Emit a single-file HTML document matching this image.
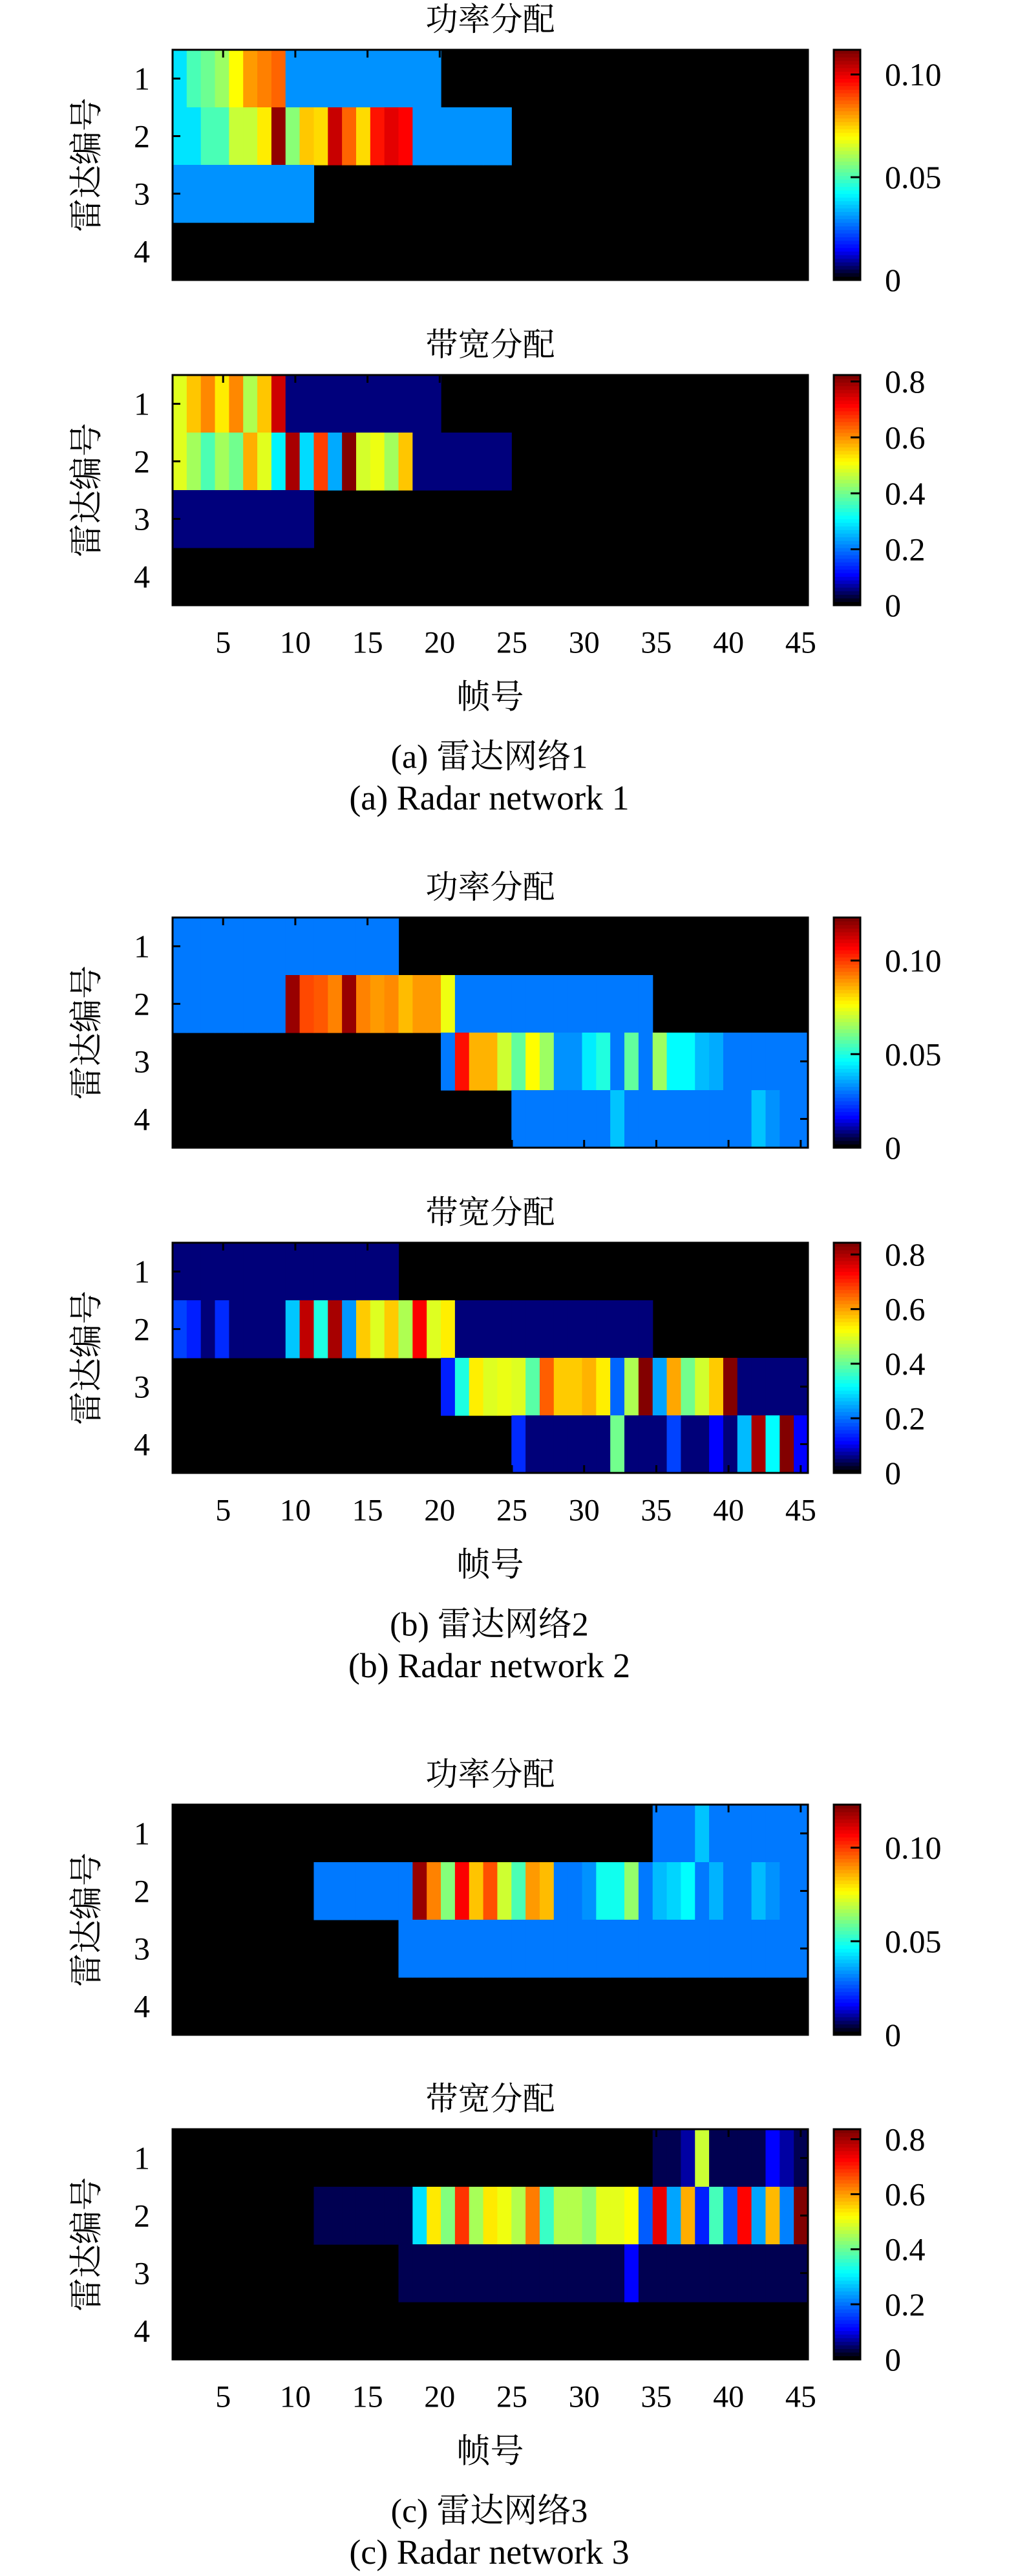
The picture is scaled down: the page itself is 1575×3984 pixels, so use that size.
<!DOCTYPE html>
<html><head><meta charset="utf-8"><style>
html,body{margin:0;padding:0;background:#fff;}
svg{display:block;}
text{font-family:"Liberation Serif","Noto Serif CJK SC","Noto Sans CJK SC",serif;fill:#000;}
</style></head>
<body>
<svg id="fig" width="1575" height="3984" viewBox="0 0 1575 3984" xmlns="http://www.w3.org/2000/svg"></svg>
<script>
// ---- data (45 frames x 4 radars per map) ----
const power1_r1=[0.039,0.050,0.054,0.059,0.070,0.081,0.084,0.087,0.030,0.030,0.030,0.030,0.030,0.030,0.030,0.030,0.030,0.030,0.030,0,0,0,0,0,0,0,0,0,0,0,0,0,0,0,0,0,0,0,0,0,0,0,0,0,0];
const power1_r2=[0.039,0.039,0.050,0.050,0.064,0.064,0.072,0.110,0.057,0.076,0.074,0.104,0.087,0.074,0.096,0.101,0.098,0.030,0.030,0.030,0.030,0.030,0.030,0.030,0,0,0,0,0,0,0,0,0,0,0,0,0,0,0,0,0,0,0,0,0];
const power1_r3=[0.030,0.030,0.030,0.030,0.030,0.030,0.030,0.030,0.030,0.030,0,0,0,0,0,0,0,0,0,0,0,0,0,0,0,0,0,0,0,0,0,0,0,0,0,0,0,0,0,0,0,0,0,0,0];
const power1_r4=[0,0,0,0,0,0,0,0,0,0,0,0,0,0,0,0,0,0,0,0,0,0,0,0,0,0,0,0,0,0,0,0,0,0,0,0,0,0,0,0,0,0,0,0,0];

const bw1_r1=[0.49,0.56,0.61,0.53,0.61,0.45,0.56,0.76,0.05,0.05,0.05,0.05,0.05,0.05,0.05,0.05,0.05,0.05,0.05,0,0,0,0,0,0,0,0,0,0,0,0,0,0,0,0,0,0,0,0,0,0,0,0,0,0];
const bw1_r2=[0.49,0.44,0.37,0.44,0.40,0.58,0.49,0.30,0.79,0.28,0.67,0.24,0.82,0.48,0.50,0.44,0.56,0.05,0.05,0.05,0.05,0.05,0.05,0.05,0,0,0,0,0,0,0,0,0,0,0,0,0,0,0,0,0,0,0,0,0];
const bw1_r3=[0.05,0.05,0.05,0.05,0.05,0.05,0.05,0.05,0.05,0.05,0,0,0,0,0,0,0,0,0,0,0,0,0,0,0,0,0,0,0,0,0,0,0,0,0,0,0,0,0,0,0,0,0,0,0];
const bw1_r4=[0,0,0,0,0,0,0,0,0,0,0,0,0,0,0,0,0,0,0,0,0,0,0,0,0,0,0,0,0,0,0,0,0,0,0,0,0,0,0,0,0,0,0,0,0];

const power2_r1=[0.030,0.030,0.030,0.030,0.030,0.030,0.030,0.030,0.030,0.030,0.030,0.030,0.030,0.030,0.030,0.030,0,0,0,0,0,0,0,0,0,0,0,0,0,0,0,0,0,0,0,0,0,0,0,0,0,0,0,0,0];
const power2_r2=[0.030,0.030,0.030,0.030,0.030,0.030,0.030,0.030,0.120,0.099,0.097,0.092,0.120,0.092,0.089,0.091,0.085,0.089,0.089,0.075,0.030,0.030,0.030,0.030,0.030,0.030,0.030,0.030,0.030,0.030,0.030,0.030,0.030,0.030,0,0,0,0,0,0,0,0,0,0,0];
const power2_r3=[0,0,0,0,0,0,0,0,0,0,0,0,0,0,0,0,0,0,0,0.030,0.106,0.086,0.086,0.071,0.058,0.077,0.065,0.033,0.033,0.044,0.050,0.030,0.058,0.030,0.065,0.046,0.046,0.038,0.036,0.030,0.030,0.030,0.030,0.030,0.030];
const power2_r4=[0,0,0,0,0,0,0,0,0,0,0,0,0,0,0,0,0,0,0,0,0,0,0,0,0.030,0.030,0.030,0.030,0.030,0.030,0.030,0.039,0.030,0.030,0.030,0.030,0.030,0.030,0.030,0.030,0.030,0.039,0.033,0.030,0.030];

const bw2_r1=[0.05,0.05,0.05,0.05,0.05,0.05,0.05,0.05,0.05,0.05,0.05,0.05,0.05,0.05,0.05,0.05,0,0,0,0,0,0,0,0,0,0,0,0,0,0,0,0,0,0,0,0,0,0,0,0,0,0,0,0,0];
const bw2_r2=[0.16,0.13,0.05,0.14,0.05,0.05,0.05,0.05,0.27,0.79,0.34,0.81,0.23,0.57,0.50,0.57,0.46,0.74,0.50,0.54,0.05,0.05,0.05,0.05,0.05,0.05,0.05,0.05,0.05,0.05,0.05,0.05,0.05,0.05,0,0,0,0,0,0,0,0,0,0,0];
const bw2_r3=[0,0,0,0,0,0,0,0,0,0,0,0,0,0,0,0,0,0,0,0.13,0.34,0.54,0.50,0.51,0.50,0.39,0.66,0.57,0.57,0.59,0.54,0.19,0.46,0.84,0.24,0.60,0.41,0.49,0.57,0.84,0.05,0.05,0.05,0.05,0.05];
const bw2_r4=[0,0,0,0,0,0,0,0,0,0,0,0,0,0,0,0,0,0,0,0,0,0,0,0,0.14,0.05,0.05,0.05,0.05,0.05,0.05,0.41,0.05,0.05,0.05,0.16,0.05,0.05,0.105,0.05,0.26,0.81,0.315,0.84,0.105];

const power3_r1=[0,0,0,0,0,0,0,0,0,0,0,0,0,0,0,0,0,0,0,0,0,0,0,0,0,0,0,0,0,0,0,0,0,0,0.030,0.030,0.030,0.039,0.030,0.030,0.030,0.030,0.030,0.030,0.030];
const power3_r2=[0,0,0,0,0,0,0,0,0,0,0.030,0.030,0.030,0.030,0.030,0.030,0.030,0.120,0.092,0.062,0.108,0.084,0.098,0.071,0.055,0.089,0.085,0.030,0.030,0.033,0.048,0.048,0.064,0.030,0.038,0.041,0.046,0.030,0.037,0.030,0.030,0.038,0.033,0.030,0.030];
const power3_r3=[0,0,0,0,0,0,0,0,0,0,0,0,0,0,0,0,0.030,0.030,0.030,0.030,0.030,0.030,0.030,0.030,0.030,0.030,0.030,0.030,0.030,0.030,0.030,0.030,0.030,0.030,0.030,0.030,0.030,0.030,0.030,0.030,0.030,0.030,0.030,0.030,0.030];
const power3_r4=[0,0,0,0,0,0,0,0,0,0,0,0,0,0,0,0,0,0,0,0,0,0,0,0,0,0,0,0,0,0,0,0,0,0,0,0,0,0,0,0,0,0,0,0,0];

const bw3_r1=[0,0,0,0,0,0,0,0,0,0,0,0,0,0,0,0,0,0,0,0,0,0,0,0,0,0,0,0,0,0,0,0,0,0,0.033,0.033,0.067,0.48,0.033,0.033,0.033,0.033,0.105,0.067,0.033];
const bw3_r2=[0,0,0,0,0,0,0,0,0,0,0.033,0.033,0.033,0.033,0.033,0.033,0.033,0.29,0.54,0.42,0.69,0.45,0.54,0.51,0.46,0.63,0.36,0.46,0.46,0.43,0.50,0.50,0.52,0.18,0.75,0.24,0.59,0.13,0.37,0.17,0.73,0.24,0.58,0.21,0.836];
const bw3_r3=[0,0,0,0,0,0,0,0,0,0,0,0,0,0,0,0,0.033,0.033,0.033,0.033,0.033,0.033,0.033,0.033,0.033,0.033,0.033,0.033,0.033,0.033,0.033,0.033,0.105,0.033,0.033,0.033,0.033,0.033,0.033,0.033,0.033,0.033,0.033,0.033,0.033];
const bw3_r4=[0,0,0,0,0,0,0,0,0,0,0,0,0,0,0,0,0,0,0,0,0,0,0,0,0,0,0,0,0,0,0,0,0,0,0,0,0,0,0,0,0,0,0,0,0];

const xTicks=[5,10,15,20,25,30,35,40,45];
const yTicks=[1,2,3,4];
const powerTicks=[0,0.05,0.10];
const powerTickLabels=["0","0.05","0.10"];
const bwTicks=[0,0.2,0.4,0.6,0.8];
const bwTickLabels=["0","0.2","0.4","0.6","0.8"];
const cmaxPower=[0.112,0.123,0.123];
const cmaxBw=[0.823,0.843,0.836];
const captionsCn=["(a) 雷达网络1","(b) 雷达网络2","(c) 雷达网络3"];
const captionsEn=["(a) Radar network 1","(b) Radar network 2","(c) Radar network 3"];

// ---- layout ----
const NS="http://www.w3.org/2000/svg";
const svg=document.getElementById('fig');
const PX0=267, PX1=1250, PH=356;
const CBX=1290, CBW=41;
const XMIN=1.5, XMAX=45.5;
const tops=[[77,580],[1419,1922],[2791,3293]];

function el(tag,attrs,parent){const e=document.createElementNS(NS,tag);for(const k in attrs)e.setAttribute(k,attrs[k]);(parent||svg).appendChild(e);return e;}
function jet(f){
  if(f<=0)return 'rgb(0,0,0)';
  f=Math.min(1,f);
  let r,g,b;
  r=f<0.375?0:f<0.625?4*(f-0.375):f<0.875?1:1-4*(f-0.875)*0.5*2*0.5*2;
  if(f>=0.875)r=1-2*(f-0.875)*2;
  g=f<0.125?0:f<0.375?4*(f-0.125):f<0.625?1:f<0.875?1-4*(f-0.625):0;
  b=f<0.125?8*f:f<0.375?1:f<0.625?1-4*(f-0.375):0;
  r=Math.max(0.5*(f>=0.875),r);
  return 'rgb('+Math.round(r*255)+','+Math.round(g*255)+','+Math.round(b*255)+')';
}
function xScale(v){return PX0+(v-XMIN)/(XMAX-XMIN)*(PX1-PX0);}

function drawHeatmap(rows,top,cmax,title,showX,name){
  const g=el('g',{});
  
  
  const t=el('text',{x:(PX0+PX1)/2,y:top-47,'font-size':50,'text-anchor':'middle','dominant-baseline':'central'},g);
  t.textContent=title;
  
  
  el('rect',{x:PX0,y:top,width:PX1-PX0,height:PH,fill:'#000'},g);
  const n=rows[0].length, cw=(PX1-PX0)/n, rh=PH/rows.length;
  rows.forEach((row,ri)=>{
    row.forEach((v,ci)=>{
      if(v<=0)return;
      const c=el('rect',{x:PX0+ci*cw,y:top+ri*rh,width:cw+0.6,height:rh+0.6,fill:jet(v/cmax)},g);
      
      
    });
  });
  el('rect',{x:PX0,y:top,width:PX1-PX0,height:PH,fill:'none',stroke:'#000','stroke-width':3},g);
  // y ticks and labels
  yTicks.forEach((k,i)=>{
    const y=top+(i+0.5)*rh;
    el('line',{x1:PX0,x2:PX0+12,y1:y,y2:y,stroke:'#000','stroke-width':3},g);
    el('line',{x1:PX1-12,x2:PX1,y1:y,y2:y,stroke:'#000','stroke-width':3},g);
    const l=el('text',{x:232,y:y,'font-size':50,'text-anchor':'end','dominant-baseline':'central'},g);
    l.textContent=k;
    
    
  });
  // x ticks
  xTicks.forEach(v=>{
    const x=xScale(v);
    el('line',{x1:x,x2:x,y1:top,y2:top+12,stroke:'#000','stroke-width':3},g);
    el('line',{x1:x,x2:x,y1:top+PH-12,y2:top+PH,stroke:'#000','stroke-width':3},g);
    if(showX){
      const l=el('text',{x:x,y:top+PH+58,'font-size':48,'text-anchor':'middle','dominant-baseline':'central'},g);
      l.textContent=v;
      
      
    }
  });
  const yl=el('text',{x:0,y:0,'font-size':52,'text-anchor':'middle','dominant-baseline':'central',transform:'translate(135,'+(top+PH/2)+') rotate(-90)'},g);
  yl.textContent='雷达编号';
  
  
}

function drawColorbar(top,cmax,ticks,labels,name){
  const g=el('g',{});
  
  
  const N=64, sh=PH/N;
  for(let i=0;i<N;i++){
    const f=i/(N-1);
    el('rect',{x:CBX,y:top+PH-(i+1)*sh,width:CBW,height:sh+0.6,fill:i===0?'#000':jet(f)},g);
  }
  el('rect',{x:CBX,y:top,width:CBW,height:PH,fill:'none',stroke:'#000','stroke-width':3},g);
  ticks.forEach((v,i)=>{
    const y=top+PH-v/cmax*PH;
    if(v>0)el('line',{x1:CBX+CBW-15,x2:CBX+CBW,y1:y,y2:y,stroke:'#000','stroke-width':3},g);
    const l=el('text',{x:1369,y:y,'font-size':50,'dominant-baseline':'central'},g);
    l.textContent=labels[i];
    
    
  });
}

const powerSets=[[power1_r1,power1_r2,power1_r3,power1_r4],[power2_r1,power2_r2,power2_r3,power2_r4],[power3_r1,power3_r2,power3_r3,power3_r4]];
const bwSets=[[bw1_r1,bw1_r2,bw1_r3,bw1_r4],[bw2_r1,bw2_r2,bw2_r3,bw2_r4],[bw3_r1,bw3_r2,bw3_r3,bw3_r4]];

for(let s=0;s<3;s++){
  const [tp,tb]=tops[s];
  drawHeatmap(powerSets[s],tp,cmaxPower[s],'功率分配',false,'power-heatmap-'+(s+1));
  drawColorbar(tp,cmaxPower[s],powerTicks,powerTickLabels,'power-colorbar-'+(s+1));
  drawHeatmap(bwSets[s],tb,cmaxBw[s],'带宽分配',true,'bandwidth-heatmap-'+(s+1));
  drawColorbar(tb,cmaxBw[s],bwTicks,bwTickLabels,'bandwidth-colorbar-'+(s+1));
  const bot=tb+PH;
  const xl=el('text',{x:(PX0+PX1)/2,y:bot+143,'font-size':52,'text-anchor':'middle','dominant-baseline':'central'});
  xl.textContent='帧号';
  
  
  const c1=el('text',{x:757,y:bot+235,'font-size':52,'text-anchor':'middle','dominant-baseline':'central'});
  c1.textContent=captionsCn[s];
  
  
  const c2=el('text',{x:757,y:bot+298,'font-size':54,'text-anchor':'middle','dominant-baseline':'central'});
  c2.textContent=captionsEn[s];
  
  
}
</script>
</body></html>
